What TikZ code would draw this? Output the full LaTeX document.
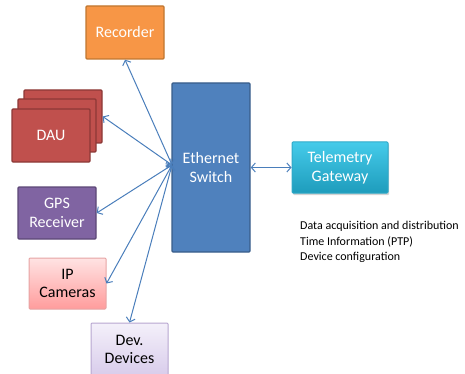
\documentclass[tikz,border=0pt]{standalone}
\usepackage{fontspec}
\setmainfont{Carlito}
\usetikzlibrary{arrows.meta,shadows}

\definecolor{recfill}{HTML}{F79646}
\definecolor{recline}{HTML}{C0762F}
\definecolor{daufill}{HTML}{C0504D}
\definecolor{dauline}{HTML}{8C3836}
\definecolor{gpsfill}{HTML}{8064A2}
\definecolor{gpsline}{HTML}{5C4776}
\definecolor{swfill}{HTML}{4F81BD}
\definecolor{swline}{HTML}{385D8A}
\definecolor{linkblue}{HTML}{4A7EBB}
\definecolor{gwtop}{HTML}{45CBEA}
\definecolor{gwbot}{HTML}{1E9CBC}
\definecolor{gwline}{HTML}{2FA9C8}
\definecolor{iptop}{HTML}{FFE3E3}
\definecolor{ipbot}{HTML}{FF9C9C}
\definecolor{ipline}{HTML}{E6A3A3}
\definecolor{devtop}{HTML}{F4F0FA}
\definecolor{devbot}{HTML}{D8CCEB}
\definecolor{devline}{HTML}{B7A6D0}

\begin{document}
\begin{tikzpicture}[x=1pt, y=-1pt,
	box/.style={draw, line width=1.4pt, rounded corners=1pt, minimum width=78pt, minimum height=53pt, inner sep=1pt, align=center, font=\fontsize{16}{18.5}\selectfont, text=white},
	link/.style={{Straight Barb[length=4pt,width=9pt]}-{Straight Barb[length=4pt,width=9pt]}, draw=linkblue, line width=1pt}]
		\useasboundingbox (0, 0) rectangle (465, 374);
		\node[box, fill=recfill, draw=recline] (recorder) at (125, 32.5) {Recorder};
		\node[box, fill=daufill, draw=dauline] (dau3) at (63, 116.5) {};
		\node[box, fill=daufill, draw=dauline] (dau2) at (57, 125.5) {};
		\node[box, fill=daufill, draw=dauline] (dau) at (51, 135.5) {DAU};
		\node[box, fill=gpsfill, draw=gpsline, minimum height=52pt] (gps) at (57, 213) {GPS\\Receiver};
		\node[box, top color=iptop, bottom color=ipbot, draw=ipline, line width=1pt, text=black, minimum width=77pt, minimum height=51pt] (ipcam) at (67.5, 283.5) {IP\\Cameras};
		\node[box, top color=devtop, bottom color=devbot, draw=devline, line width=1pt, text=black, minimum width=77pt] (devdev) at (129.5, 349.5) {Dev.\\Devices};
		\node[box, fill=swfill, draw=swline, minimum height=169pt] (switch) at (211, 167.5) {Ethernet\\Switch};
		\node[box, top color=gwtop, bottom color=gwbot, draw=gwline, line width=1pt, minimum width=96pt, minimum height=51pt, drop shadow={shadow xshift=1pt, shadow yshift=-2pt, opacity=0.35}] (gateway) at (340, 167.5) {Telemetry\\Gateway};
		\node[anchor=north west, align=left, inner sep=0pt, font=\fontsize{12}{15.5}\selectfont] (notes) at (300, 221) {Data acquisition and distribution\\Time Information (PTP)\\Device configuration};
		\coordinate (hub) at (172, 165);
		\draw[link] (hub) -- (recorder.south);
		\draw[link] (hub) -- (dau3.east);
		\draw[link] (hub) -- (gps.east);
		\draw[link] (hub) -- (ipcam.east);
		\draw[link] (hub) -- (devdev.north);
		\draw[link] (switch.east) -- (gateway.west);
	\end{tikzpicture}
\end{document}
